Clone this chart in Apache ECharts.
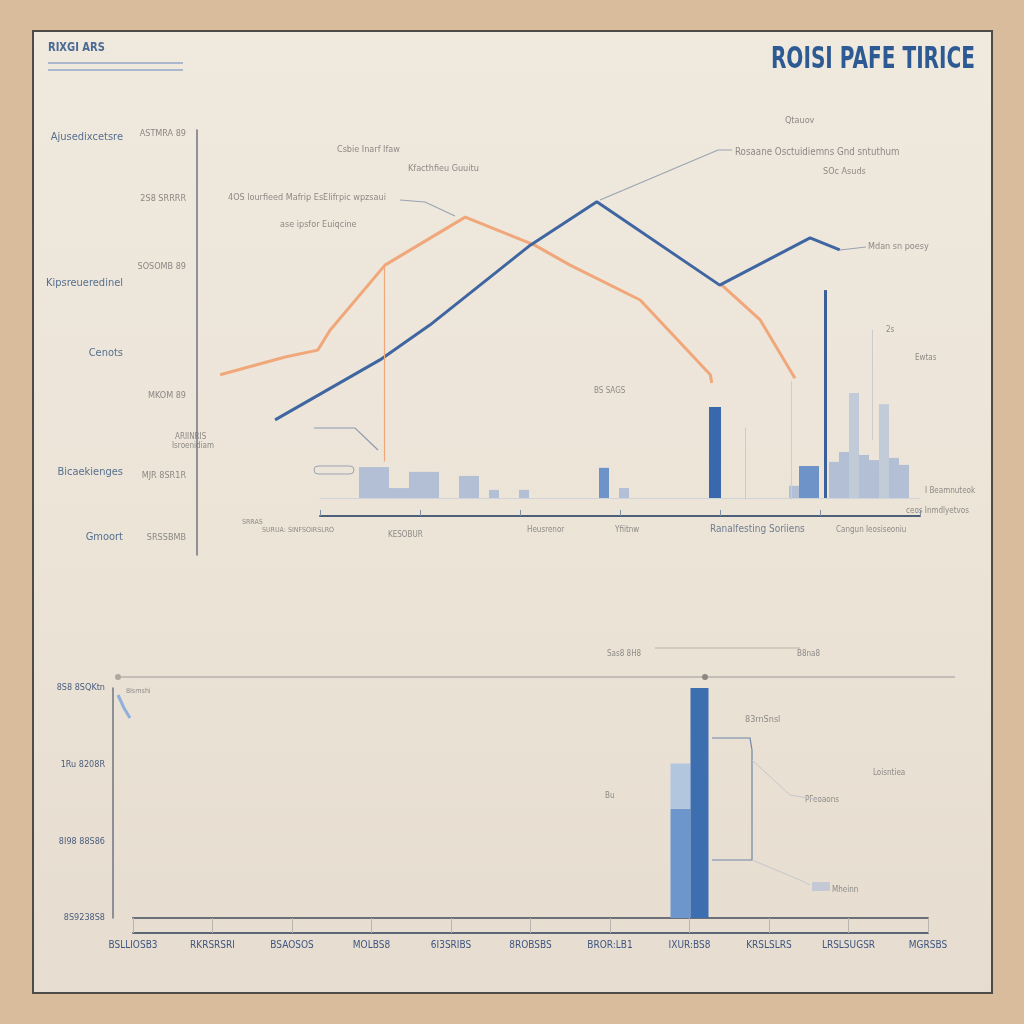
<!DOCTYPE html>
<html><head><meta charset="utf-8">
<script src="https://cdn.jsdelivr.net/npm/echarts@6/dist/echarts.min.js"></script>
<style>html,body{margin:0;padding:0;background:#d8bc9c}#c{width:1024px;height:1024px}</style>
</head><body><div id="c"></div>
<script>
// ---- data ----
const orangeLine = [[3.2,42.4],[12.2,46.6],[16.7,48.2],[18.4,52.9],[26.0,68.2],[37.1,79.5],[46.7,72.9],[51.6,68.2],[61.3,60.0],[71.0,42.4],[71.2,40.5]];
const orangeLine2 = [[72.6,63.5],[77.9,55.3],[82.7,41.6]];
const blueLine = [[10.8,31.8],[25.3,45.9],[32.2,54.1],[46.1,72.9],[55.3,83.1],[72.3,63.5],[84.8,74.6],[88.9,71.8]];
const barSlots = Array.from({length:60},(_,i)=>String(i));
const lightBars = {4:8.4,5:8.4,6:8.4,7:2.7,8:2.7,9:7.1,10:7.1,11:7.1,14:6.0,15:6.0,17:2.2,20:2.2,30:2.7,47:3.3,51:9.8,52:12.5,54:11.7,55:10.3,57:10.9,58:9.0};
const paleBars = {53:28.5,56:25.5};
const midBars = {28:8.2,48:8.7,49:8.7};
const darkBars = {39:24.7};
const topTickLabels = [["ASTMRA 89",134],["2S8 SRRRR",199],["SOSOMB 89",267],["MKOM 89",396],["MJR 8SR1R",476],["SRSSBMB",538]];
const topCategories = [["Ajusedixcetsre",137],["Kipsreueredinel",283],["Cenots",353],["Bicaekienges",472],["Gmoort",537]];
const bottomCategories = ["BSLLIOSB3","RKRSRSRI","BSAOSOS","MOLBS8","6I3SRIBS","8ROBSBS","BROR:LB1","IXUR:BS8","KRSLSLRS","LRSLSUGSR","MGRSBS"];
const bottomTicks = ["8S9238S8","8I98 88S86","1Ru 8208R","8S8 8SQKtn"];
const bottomLightLow = [null,null,null,null,null,null,null,47,null,null,null];
const bottomLightTop = [null,null,null,null,null,null,null,19.5,null,null,null];
const bottomDark = [null,null,null,null,null,null,null,100,null,null,null];

function toArr(obj){return barSlots.map((_,i)=>obj[i]!==undefined?obj[i]:null);}

const grey = '#8c8a86';
const lab = '#56708f';
const ff = 'Liberation Sans Narrow, DejaVu Sans Condensed, Liberation Sans, sans-serif';
function T(x,y,s,opt,extra){return Object.assign({type:'text',x:x,y:y,style:Object.assign({text:s,fill:grey,font:'10px '+ff,textVerticalAlign:'middle'},opt||{})},extra||{});}
function L(pts,color,w){return {type:'polyline',shape:{points:pts},style:{stroke:color,lineWidth:w||1,fill:null}};}

const elements = [
  {type:'rect',z:-100,shape:{x:33,y:31,width:959,height:962},style:{fill:new echarts.graphic.LinearGradient(0,0,0,1,[{offset:0,color:'#efe9de'},{offset:0.5,color:'#ede4d8'},{offset:1,color:'#e6ddd0'}]),stroke:'#4d4a47',lineWidth:2}},
  T(975,60,'ROISI PAFE TIRICE',{fill:'#2e5a94',font:'bold 31px '+ff,textAlign:'right'},{scaleX:0.72}),
  T(48,48,'RIXGI ARS',{fill:'#4a6a96',font:'bold 13px '+ff},{scaleX:0.85}),
  L([[48,63],[183,63]],'#a9b8cc',2), L([[48,70],[183,70]],'#a9b8cc',2),
  T(785,121,'Qtauov',{font:'9px '+ff}),
  T(735,152,'Rosaane Osctuidiemns Gnd sntuthum',{font:'11px '+ff},{scaleX:0.88}),
  L([[600,200],[718,150],[732,150]],'#9aa3b2',1.2),
  T(823,172,'SOc Asuds',{font:'9px '+ff}),
  T(868,247,'Mdan sn poesy',{font:'9px '+ff}),
  L([[840,250],[866,247]],'#9aa3b2',1),
  T(337,150,'Csbie Inarf Ifaw',{font:'9px '+ff}),
  T(408,169,'Kfacthfieu Guuitu',{font:'9px '+ff}),
  T(228,198,'4OS lourfieed Mafrip EsElifrpic wpzsaui',{font:'9px '+ff}),
  L([[400,200],[425,202],[455,216]],'#9aa3b2',1.2),
  T(280,225,'ase ipsfor Euiqcine',{font:'9px '+ff}),
  T(594,391,'BS SAGS',{font:'8px '+ff}),
  T(915,358,'Ewtas',{font:'8px '+ff}),
  T(886,330,'2s',{font:'8px '+ff}),
  T(925,491,'I Beamnuteok',{font:'8px '+ff}),
  T(906,511,'ceos Inmdlyetvos',{font:'8px '+ff}),
  T(527,530,'Heusrenor',{font:'8px '+ff}),
  T(615,530,'Yfiitnw',{font:'8px '+ff}),
  T(710,529,'Ranalfesting Soriiens',{fill:'#6f7d90',font:'10px '+ff}),
  T(836,530,'Cangun Ieosiseoniu',{font:'8px '+ff}),
  T(388,535,'KESOBUR',{font:'8px '+ff}),
  T(262,530,'SURUA: SINFSOIRSLRO',{font:'7px '+ff}),
  T(242,522,'SRRAS',{font:'7px '+ff}),
  T(175,437,'ARIINRIS',{font:'8px '+ff}),
  T(172,446,'Isroenidiam',{font:'8px '+ff}),
  L([[314,428],[355,428],[378,450]],'#8f9ab0',1.2),
  {type:'rect',shape:{x:314,y:466,width:40,height:8,r:4},style:{fill:'none',stroke:'#9aa3b2',lineWidth:1}},
  L([[118,677],[955,677]],'#9a9a9a',1.2),
  {type:'circle',shape:{cx:118,cy:677,r:3},style:{fill:'#b0a89c'}},
  {type:'circle',shape:{cx:705,cy:677,r:3},style:{fill:'#8c8680'}},
  L([[655,648],[800,648]],'#b8b2a8',1),
  T(607,654,'Sas8 8H8',{font:'8px '+ff}),
  T(797,654,'B8na8',{font:'8px '+ff}),
  T(126,691,'8Isrnshi',{font:'7px '+ff}),
  L([[118,695],[124,708],[130,718]],'#8fb0dc',3),
  T(745,720,'83rnSnsl',{font:'9px '+ff}),
  T(605,796,'Bu',{font:'8px '+ff}),
  T(873,773,'Loisntiea',{font:'8px '+ff}),
  T(805,800,'PFeoaons',{font:'8px '+ff}),
  {type:'rect',shape:{x:812,y:882,width:18,height:9},style:{fill:'rgba(160,180,215,0.5)'}},
  T(832,890,'Mheinn',{font:'8px '+ff}),
  L([[712,738],[750,738],[752,750],[752,860],[712,860]],'#6f86a8',1.2),
  L([[752,760],[790,795],[820,800]],'#c3c6cc',1),
  L([[752,860],[800,880],[810,885]],'#c3c6cc',1)
];
topTickLabels.forEach(([s,y])=>elements.push(T(186,y,s,{textAlign:'right',font:'9px '+ff,fill:'#8a8884'})));
topCategories.forEach(([s,y])=>elements.push(T(123,y,s,{textAlign:'right',font:'11px '+ff,fill:lab})));

const chart = echarts.init(document.getElementById('c'),null,{renderer:'canvas'});
chart.setOption({
  backgroundColor:'#d8bc9c',
  animation:false,
  graphic:{elements:elements},
  grid:[
    {left:197,right:104,top:130,bottom:469},
    {left:320,right:104,top:130,bottom:526},
    {left:133,right:96,top:688,bottom:106}
  ],
  xAxis:[
    {type:'value',gridIndex:0,min:0,max:100,show:false},
    {type:'category',gridIndex:1,data:barSlots,axisLine:{lineStyle:{color:'#cfd3da',width:1}},axisTick:{show:false},axisLabel:{show:false}},
    {type:'category',gridIndex:1,data:barSlots,position:'bottom',offset:18,axisLine:{lineStyle:{color:'#4e5f7a',width:2}},axisTick:{show:true,interval:9,length:-6,lineStyle:{color:'#8090a8'}},axisLabel:{show:false}},
    {type:'category',gridIndex:2,data:bottomCategories,boundaryGap:false,axisLine:{lineStyle:{color:'#6a6f78',width:2}},axisTick:{show:true,length:15,lineStyle:{color:'#b9b4ad'}},axisLabel:{margin:22,color:'#3f5680',fontSize:10,fontFamily:ff}},
    {type:'category',gridIndex:2,data:bottomCategories,boundaryGap:false,position:'bottom',offset:15,axisLine:{lineStyle:{color:'#5d6675',width:2}},axisTick:{show:false},axisLabel:{show:false}}
  ],
  yAxis:[
    {type:'value',gridIndex:0,min:0,max:100,splitLine:{show:false},axisLine:{show:true,lineStyle:{color:'#6e7480',width:1.5}},axisTick:{show:false},axisLabel:{show:false}},
    {type:'value',gridIndex:1,min:0,max:100,show:false},
    {type:'value',gridIndex:2,min:0,max:99,interval:33,offset:20,splitLine:{show:false},axisLine:{show:true,lineStyle:{color:'#6e7480',width:1.5}},axisTick:{show:false},
      axisLabel:{color:'#4a5d7d',fontSize:9,fontFamily:ff,formatter:(v,i)=>bottomTicks[i]||''}}
  ],
  series:[
    {type:'line',xAxisIndex:0,yAxisIndex:0,data:orangeLine,symbol:'none',lineStyle:{color:'#f0a77a',width:3},z:3},
    {type:'line',xAxisIndex:0,yAxisIndex:0,data:orangeLine2,symbol:'none',lineStyle:{color:'#f0a77a',width:3},z:3},
    {type:'line',xAxisIndex:0,yAxisIndex:0,data:blueLine,symbol:'none',lineStyle:{color:'#3f66a0',width:3},z:4,
      markLine:{silent:true,symbol:'none',label:{show:false},lineStyle:{type:'solid'},data:[
        [{coord:[25.9,68],lineStyle:{color:'#f0a77a',width:1.2}},{coord:[25.9,22]}],
        [{coord:[82.2,41],lineStyle:{color:'#e9c6ad',width:1}},{coord:[82.2,13]}],
        [{coord:[75.8,30],lineStyle:{color:'#c9ccd2',width:1}},{coord:[75.8,13]}],
        [{coord:[93.4,53],lineStyle:{color:'#c9ccd2',width:1}},{coord:[93.4,27]}]
      ]}},
    {type:'bar',xAxisIndex:1,yAxisIndex:1,data:toArr(paleBars),barWidth:10,barGap:'-100%',itemStyle:{color:'rgba(140,170,215,0.45)'}},
    {type:'bar',xAxisIndex:1,yAxisIndex:1,data:toArr(lightBars),barWidth:10,barGap:'-100%',itemStyle:{color:'rgba(130,160,210,0.55)'}},
    {type:'bar',xAxisIndex:1,yAxisIndex:1,data:toArr(midBars),barWidth:10,barGap:'-100%',itemStyle:{color:'#6e93c8'}},
    {type:'bar',xAxisIndex:1,yAxisIndex:1,data:toArr(darkBars),barWidth:12,barGap:'-100%',itemStyle:{color:'#3a68ad'},
      markLine:{silent:true,symbol:'none',label:{show:false},lineStyle:{type:'solid'},data:[
        [{coord:['50',0],lineStyle:{color:'#3a5f9a',width:3}},{coord:['50',56.5]}],
        [{coord:['41',-5],lineStyle:{color:'#5a6e90',width:1.5}},{coord:['41',6]}]
      ]}},
    {type:'bar',xAxisIndex:3,yAxisIndex:2,data:bottomLightLow,stack:'l',barWidth:20,barGap:'0%',itemStyle:{color:'#6d97cc'}},
    {type:'bar',xAxisIndex:3,yAxisIndex:2,data:bottomLightTop,stack:'l',barWidth:20,barGap:'0%',itemStyle:{color:'#b2c6dd'}},
    {type:'bar',xAxisIndex:3,yAxisIndex:2,data:bottomDark,barWidth:18,barGap:'0%',itemStyle:{color:'#3d6fb0'}}
  ]
});
</script></body></html>
